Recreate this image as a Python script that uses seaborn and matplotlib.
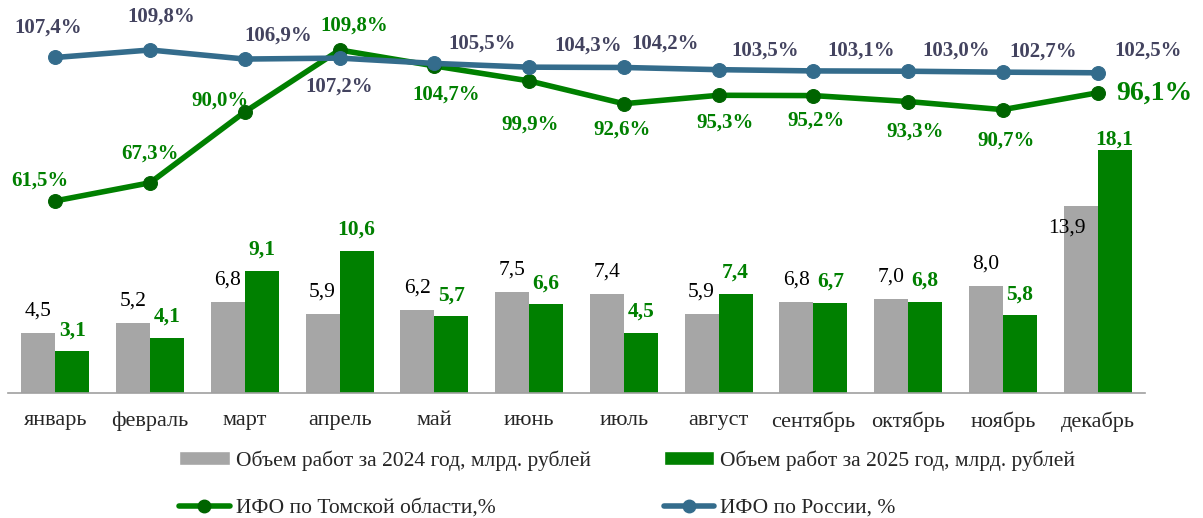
import numpy as np
import pandas as pd
import matplotlib
matplotlib.use("Agg")
import matplotlib.pyplot as plt
import seaborn as sns
from matplotlib.lines import Line2D
from matplotlib.patches import Patch

months = ['январь', 'февраль', 'март', 'апрель', 'май', 'июнь',
          'июль', 'август', 'сентябрь', 'октябрь', 'ноябрь', 'декабрь']
vol_2024 = [4.5, 5.2, 6.8, 5.9, 6.2, 7.5, 7.4, 5.9, 6.8, 7.0, 8.0, 13.9]
vol_2025 = [3.1, 4.1, 9.1, 10.6, 5.7, 6.6, 4.5, 7.4, 6.7, 6.8, 5.8, 18.1]
ifo_tomsk = [61.5, 67.3, 90.0, 109.8, 104.7, 99.9, 92.6, 95.3, 95.2, 93.3, 90.7, 96.1]
ifo_russia = [107.4, 109.8, 106.9, 107.2, 105.5, 104.3, 104.2, 103.5, 103.1, 103.0, 102.7, 102.5]

lbl_2024 = 'Объем работ за 2024 год, млрд. рублей'
lbl_2025 = 'Объем работ за 2025 год, млрд. рублей'
lbl_tomsk = 'ИФО по Томской области,%'
lbl_russia = 'ИФО по России, %'

# label offsets in pixels (dx, dy), layout only
off_russia = [(-7, 30), (11, 33), (33, 23), (0, -28), (48, 20), (59, 22),
              (41, 24), (47, 19), (48, 20), (48, 21), (40, 21), (50, 22)]
off_tomsk = [(-15, 20), (0, 29), (-25, 11), (15, 24), (12, -29), (1, -44),
             (-2, -26), (6, -27), (3, -25), (7, -30), (3, -31), (57, 0)]

GRAY = '#A6A6A6'
GREEN = '#008000'
DKGREEN = '#006400'
BLUE = '#346C8C'
SLATE = '#43435F'

sns.set_style('white')
plt.rcParams['font.family'] = ['Liberation Serif', 'DejaVu Serif']

fig = plt.figure(figsize=(12.03, 5.18), dpi=100)
W, H = 1203, 518
ax = fig.add_axes([8 / W, 1 - 393 / H, (1145 - 8) / W, 388 / H])

df = pd.DataFrame({
    'month': months * 2,
    'value': vol_2024 + vol_2025,
    'year': [lbl_2024] * 12 + [lbl_2025] * 12,
})
sns.barplot(data=df, x='month', y='value', hue='year', order=months,
            palette=[GRAY, GREEN], width=0.72, saturation=1, ax=ax,
            legend=False, edgecolor='none')
ax.set_ylim(0, 28.9)
ax.set_xlim(-0.5, 11.5)

# bar value labels
for i, cont in enumerate(ax.containers):
    for j, bar in enumerate(cont):
        v = bar.get_height()
        x = bar.get_x() + bar.get_width() / 2
        txt = f'{v:.1f}'.replace('.', ',')
        if i == 0:
            if j == 11:
                ax.annotate(txt, (x, v), xytext=(-14, -22), textcoords='offset pixels',
                            ha='center', va='center', fontsize=15.5, color='black')
            else:
                ax.annotate(txt, (x, v), xytext=(0, 22), textcoords='offset pixels',
                            ha='center', va='center', fontsize=15.5, color='black')
        else:
            dy = 10 if j == 11 else 21
            ax.annotate(txt, (x, v), xytext=(0, dy), textcoords='offset pixels',
                        ha='center', va='center', fontsize=15.5, color=GREEN,
                        fontweight='bold')

for s in ['top', 'left', 'right']:
    ax.spines[s].set_visible(False)
ax.spines['bottom'].set_color('#A0A0A0')
ax.spines['bottom'].set_linewidth(1.2)
ax.set_yticks([])
ax.set_xlabel('')
ax.set_ylabel('')
ax.set_xticks(np.arange(12))
ax.set_xticklabels(months, fontsize=16)
ax.tick_params(axis='x', length=0, pad=13)
ax.set_xticks(np.arange(-0.5, 12, 1), minor=True)
ax.tick_params(axis='x', which='minor', length=8, color='#A0A0A0', width=1.2, direction='out')

ax2 = ax.twinx()
x = np.arange(12)
sns.lineplot(x=x, y=ifo_tomsk, ax=ax2, color=GREEN, linewidth=4,
             marker='o', markersize=10, markerfacecolor=DKGREEN,
             markeredgecolor=DKGREEN, zorder=3)
sns.lineplot(x=x, y=ifo_russia, ax=ax2, color=BLUE, linewidth=4,
             marker='o', markersize=10, markerfacecolor=BLUE,
             markeredgecolor=BLUE, zorder=4)
ax2.set_ylim(0, 124.2)
ax2.set_yticks([])
for s in ax2.spines.values():
    s.set_visible(False)

for i in range(12):
    txt = f'{ifo_russia[i]:.1f}%'.replace('.', ',')
    ax2.annotate(txt, (x[i], ifo_russia[i]), xytext=off_russia[i],
                 textcoords='offset pixels', ha='center', va='center',
                 fontsize=15, fontweight='bold', color=SLATE)
    txt = f'{ifo_tomsk[i]:.1f}%'.replace('.', ',')
    big = i == 11
    ax2.annotate(txt, (x[i], ifo_tomsk[i]), xytext=off_tomsk[i],
                 textcoords='offset pixels', ha='center', va='center',
                 fontsize=20 if big else 15, fontweight='bold', color=GREEN)

handles = [
    Patch(facecolor=GRAY, label=lbl_2024),
    Line2D([], [], color=GREEN, lw=4, marker='o', markersize=9,
           markerfacecolor=DKGREEN, markeredgecolor=DKGREEN, label=lbl_tomsk),
    Patch(facecolor=GREEN, label=lbl_2025),
    Line2D([], [], color=BLUE, lw=4, marker='o', markersize=9,
           markerfacecolor=BLUE, markeredgecolor=BLUE, label=lbl_russia),
]
fig.legend(handles=handles, ncol=2, loc='center left',
           bbox_to_anchor=(160 / W, 1 - 484 / H), frameon=False,
           fontsize=15.5, handlelength=2.33, handleheight=0.6,
           handletextpad=0.28, labelspacing=1.3, columnspacing=3.4)

fig.savefig('out.png', dpi=100)
